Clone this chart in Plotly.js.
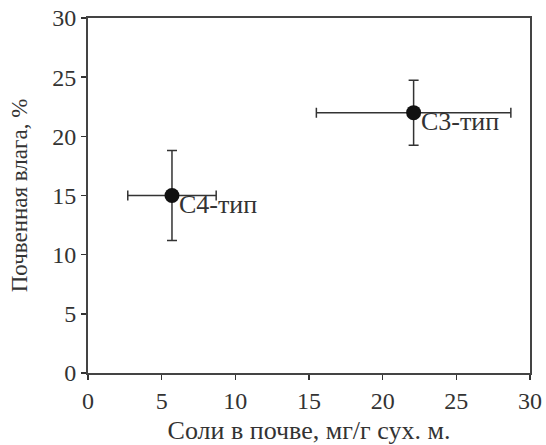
<!DOCTYPE html>
<html><head><meta charset="utf-8">
<script src="https://cdn.plot.ly/plotly-3.0.1.min.js"></script>
<style>body{margin:0;background:#fff}#chart{width:546px;height:445px}</style>
</head><body><div id="chart"></div>
<script>
const labels = ["C4-тип", "C3-тип"];
const salt = [5.7, 22.1];
const saltErr = [3.0, 6.6];
const moisture = [15.0, 22.0];
const moistureErr = [3.8, 2.75];
const tickVals = [0, 5, 10, 15, 20, 25, 30];

const fontFam = "Liberation Serif";
const ink = "#333333";

const trace = {
  x: salt, y: moisture, type: "scatter", mode: "markers",
  marker: {size: 15, color: "#111111"},
  error_x: {type: "data", array: saltErr, visible: true, color: ink, thickness: 1.5, width: 5},
  error_y: {type: "data", array: moistureErr, visible: true, color: ink, thickness: 1.5, width: 5},
  hoverinfo: "none"
};

const annotations = labels.map((t, i) => ({
  x: salt[i], y: moisture[i], xref: "x", yref: "y", text: t, showarrow: false,
  xanchor: "left", yanchor: "middle", xshift: 5, yshift: -9,
  font: {family: fontFam, size: 26, color: ink}
}));

const axisCommon = {
  range: [0, 30], tickvals: tickVals, ticks: "outside", ticklen: 5, tickwidth: 1.5, tickcolor: ink,
  showline: true, linecolor: "#444444", linewidth: 2, mirror: true, showgrid: false, zeroline: false,
  tickfont: {family: fontFam, size: 24, color: ink}
};

const layout = {
  width: 546, height: 445,
  margin: {l: 88, r: 16, t: 18, b: 72},
  paper_bgcolor: "#fff", plot_bgcolor: "#fff",
  showlegend: false,
  font: {family: fontFam, color: ink},
  xaxis: Object.assign({}, axisCommon, {title: {text: "Соли в почве, мг/г сух. м.", font: {family: fontFam, size: 26, color: ink}, standoff: 9}}),
  yaxis: Object.assign({}, axisCommon, {title: {text: "Почвенная влага, %", font: {family: fontFam, size: 23, color: ink}, standoff: 18}}),
  annotations: annotations
};

Plotly.newPlot("chart", [trace], layout, {displayModeBar: false, staticPlot: true});
</script></body></html>
